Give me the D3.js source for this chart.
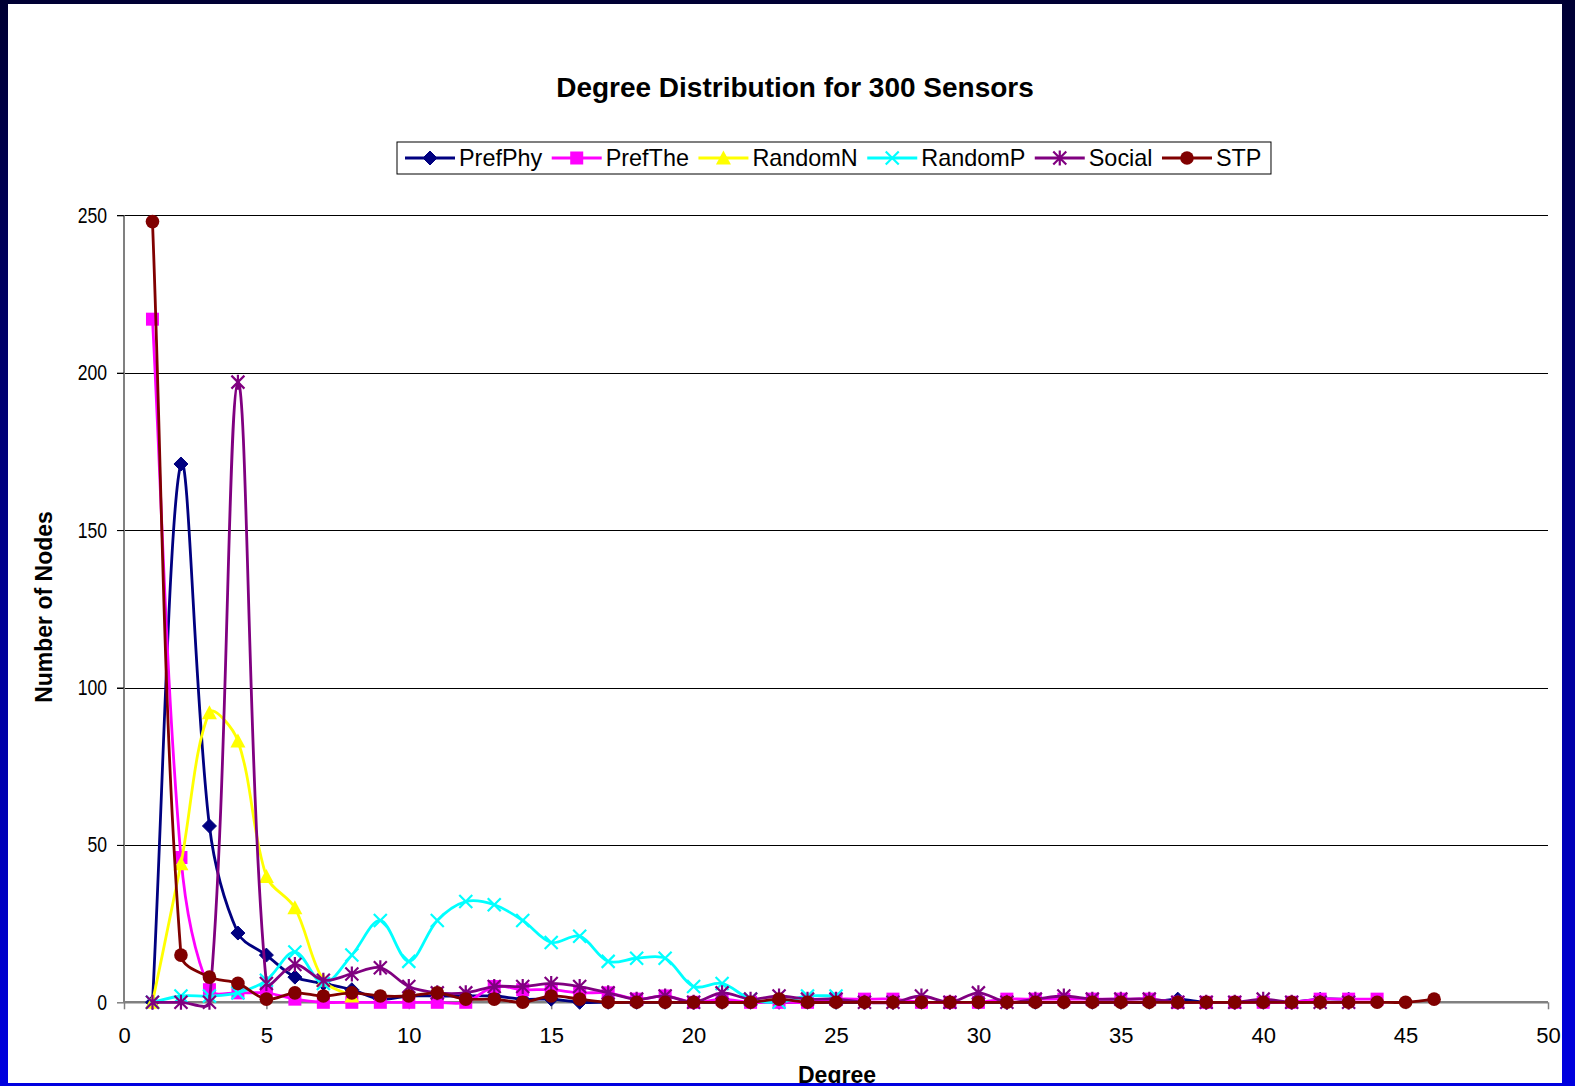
<!DOCTYPE html>
<html><head><meta charset="utf-8">
<script src="https://cdn.jsdelivr.net/npm/d3@7"></script>
<style>html,body{margin:0;padding:0;background:#fff}svg{display:block}</style>
</head><body>
<svg id="chart" width="1575" height="1086"></svg>
<script>
// ---- data ----
const chartTitle = "Degree Distribution for 300 Sensors";
const xTitle = "Degree";
const yTitle = "Number of Nodes";
const seriesNames = ["PrefPhy","PrefThe","RandomN","RandomP","Social","STP"];
// values for degree 1, 2, 3, ...
const prefPhy = [0,171,56,22,15,8,6,4,1,2, 2,2,2,1,1,0,0,0,0,0, 0,0,0,0,0,0,0,0,0,0, 0,0,0,0,0,0,1,0,0,0, 0,1,1];
const prefThe = [217,46,4,3,3,1,0,0,0,0, 0,0,5,4,4,3,3,1,2,0, 1,0,0,0,1,1,1,0,0,0, 1,1,1,1,1,1,0,0,0,0, 0,1,1,1];
const randomN = [0,44,92,83,40,30,7,2];
const randomP = [0,2,2,3,7,16,6,15,26,13, 26,32,31,26,19,21,13,14,14,5, 6,1,0,2,2];
const social  = [0,0,0,197,6,12,7,9,11,5, 3,3,5,5,6,5,3,1,2,0, 3,1,2,1,1,0,0,2,0,3, 0,1,2,1,1,1,0,0,0,1, 0,0,0];
const stp     = [248,15,8,6,1,3,2,3,2,2, 3,1,1,0,2,1,0,0,0,0, 0,0,1,0,0,0,0,0,0,0, 0,0,0,0,0,0,0,0,0,0, 0,0,0,0,0,1];
const xTicks = [0,5,10,15,20,25,30,35,40,45,50];
const yTicks = [0,50,100,150,200,250];

const seriesValues = [prefPhy, prefThe, randomN, randomP, social, stp];
const seriesColors = ["#000080","#FF00FF","#FFFF00","#00FFFF","#800080","#800000"];
const seriesMarkers = ["diamond","square","triangle","x","star","circle"];

// ---- layout ----
const svg = d3.select("#chart");
const W = 1575, H = 1086;
const panel = {x:8, y:4, w:1554, h:1079};
const plot = {left:124, right:1548, top:215.3, bottom:1002.3};
const x = d3.scaleLinear().domain([0,50]).range([plot.left, plot.right]);
const y = d3.scaleLinear().domain([0,250]).range([plot.bottom, plot.top]);
const FONT = "'Liberation Sans', Arial, sans-serif";

const defs = svg.append("defs");
const grad = defs.append("linearGradient").attr("id","bg").attr("x1",0).attr("y1",0).attr("x2",0).attr("y2",1);
grad.append("stop").attr("offset","0%").attr("stop-color","#000033");
grad.append("stop").attr("offset","100%").attr("stop-color","#0000e0");
defs.append("clipPath").attr("id","panelClip").append("rect")
  .attr("x",panel.x).attr("y",panel.y).attr("width",panel.w).attr("height",panel.h);

svg.append("rect").attr("width",W).attr("height",H).attr("fill","url(#bg)");
svg.append("rect").attr("x",panel.x).attr("y",panel.y).attr("width",panel.w).attr("height",panel.h).attr("fill","#fff");

const g = svg.append("g").attr("clip-path","url(#panelClip)");

// title
g.append("text").attr("x",795).attr("y",97).attr("text-anchor","middle")
  .attr("font-family",FONT).attr("font-weight","bold").attr("font-size",28).text(chartTitle);

// gridlines
const gridAxis = d3.axisLeft(y).tickValues(yTicks.filter(v=>v>0)).tickSize(0).tickFormat("");
const gg = g.append("g").attr("transform",`translate(${plot.left-7},0)`).call(gridAxis);
gg.select(".domain").remove();
gg.selectAll(".tick line").attr("stroke","#000").attr("stroke-width",1).attr("shape-rendering","crispEdges")
  .attr("x1",0).attr("x2",plot.right-plot.left+7);

// y axis
const yAxis = d3.axisLeft(y).tickValues(yTicks).tickSize(7).tickPadding(10);
const ya = g.append("g").attr("transform",`translate(${plot.left},0)`).call(yAxis);
ya.select(".domain").attr("stroke","#808080").attr("stroke-width",2).attr("d",`M0,${plot.top}V${plot.bottom}`);
ya.selectAll(".tick line").attr("stroke","#808080").attr("stroke-width",1.5);
ya.selectAll(".tick").filter(d=>d>0).select("line").attr("stroke","#000").attr("stroke-width",1);
ya.selectAll(".tick text").attr("font-family",FONT).attr("font-size",22).attr("fill","#000")
  .each(function(){ const w=this.getComputedTextLength(); d3.select(this).attr("textLength",w*0.8).attr("lengthAdjust","spacingAndGlyphs"); });

// x axis
const xAxis = d3.axisBottom(x).tickValues(xTicks).tickSize(7).tickPadding(18);
const xa = g.append("g").attr("transform",`translate(0,${plot.bottom})`).call(xAxis);
xa.select(".domain").attr("stroke","#808080").attr("stroke-width",2.5).attr("d",`M${plot.left},0H${plot.right}`);
xa.selectAll(".tick line").attr("stroke","#808080").attr("stroke-width",1.5);
xa.selectAll(".tick text").attr("font-family",FONT).attr("font-size",22).attr("fill","#000");

// axis titles
g.append("text").attr("x",837).attr("y",1083).attr("text-anchor","middle")
  .attr("font-family",FONT).attr("font-weight","bold").attr("font-size",23).text(xTitle);
g.append("text").attr("transform","translate(52,607) rotate(-90)").attr("text-anchor","middle")
  .attr("font-family",FONT).attr("font-weight","bold").attr("font-size",23).text(yTitle);

// markers
function drawMarker(sel, type, color){
  if(type==="diamond") sel.append("path").attr("d","M0,-7L7,0L0,7L-7,0Z").attr("fill",color).attr("stroke",color).attr("stroke-width",1);
  else if(type==="square") sel.append("rect").attr("x",-6.5).attr("y",-6.5).attr("width",13).attr("height",13).attr("fill",color);
  else if(type==="triangle") sel.append("path").attr("d","M0,-7.5L7.5,6.5L-7.5,6.5Z").attr("fill",color);
  else if(type==="x") sel.append("path").attr("d","M-6.5,-6.5L6.5,6.5M-6.5,6.5L6.5,-6.5").attr("stroke",color).attr("stroke-width",2.2).attr("fill","none");
  else if(type==="star") sel.append("path").attr("d","M-6.5,-6.5L6.5,6.5M-6.5,6.5L6.5,-6.5M0,-7.5L0,7.5").attr("stroke",color).attr("stroke-width",2.2).attr("fill","none");
  else if(type==="circle") sel.append("circle").attr("r",6.8).attr("fill",color);
}

// Excel-like smoothed line: Bezier with chord-proportional control points
function smoothPath(pts){
  const p = d3.path();
  const P = pts.map(d=>[x(d[0]), y(d[1])]);
  const dist = (a,b)=>Math.hypot(b[0]-a[0], b[1]-a[1]);
  p.moveTo(P[0][0], P[0][1]);
  for(let i=0;i<P.length-1;i++){
    const P0 = P[i-1]||P[i], P1 = P[i], P2 = P[i+1], P3 = P[i+2]||P[i+1];
    const d01 = dist(P0,P1), d12 = dist(P1,P2), d23 = dist(P2,P3);
    const f1 = (d01+d12)>0 ? d12/(d01+d12) : 0;
    const f2 = (d12+d23)>0 ? d12/(d12+d23) : 0;
    const c1 = [P1[0]+(P2[0]-P0[0])*f1/3, P1[1]+(P2[1]-P0[1])*f1/3];
    const c2 = [P2[0]-(P3[0]-P1[0])*f2/3, P2[1]-(P3[1]-P1[1])*f2/3];
    p.bezierCurveTo(c1[0],c1[1],c2[0],c2[1],P2[0],P2[1]);
  }
  return p.toString();
}

seriesValues.forEach((vals,i)=>{
  const pts = vals.map((v,j)=>[j+1,v]);
  const sg = g.append("g");
  sg.append("path").attr("d",smoothPath(pts)).attr("fill","none").attr("stroke",seriesColors[i]).attr("stroke-width",2.8).attr("stroke-linejoin","round");
  sg.selectAll("g.m").data(pts).enter().append("g").attr("class","m")
    .attr("transform",d=>`translate(${x(d[0])},${y(d[1])})`)
    .each(function(){ drawMarker(d3.select(this), seriesMarkers[i], seriesColors[i]); });
});

// legend
const lg = g.append("g");
const legBox = lg.append("rect").attr("fill","#fff").attr("stroke","#000").attr("stroke-width",1);
let cx = 405; const ly = 158;
seriesNames.forEach((name,i)=>{
  lg.append("line").attr("x1",cx).attr("x2",cx+50).attr("y1",ly).attr("y2",ly).attr("stroke",seriesColors[i]).attr("stroke-width",2.8);
  const m = lg.append("g").attr("transform",`translate(${cx+25},${ly})`);
  drawMarker(m, seriesMarkers[i], seriesColors[i]);
  const t = lg.append("text").attr("x",cx+54).attr("y",ly).attr("dy","0.35em")
    .attr("font-family",FONT).attr("font-size",23.4).text(name);
  cx += 54 + t.node().getComputedTextLength() + 9.5;
});
legBox.attr("x",397).attr("y",142).attr("width",cx-397).attr("height",32);
</script>
</body></html>
